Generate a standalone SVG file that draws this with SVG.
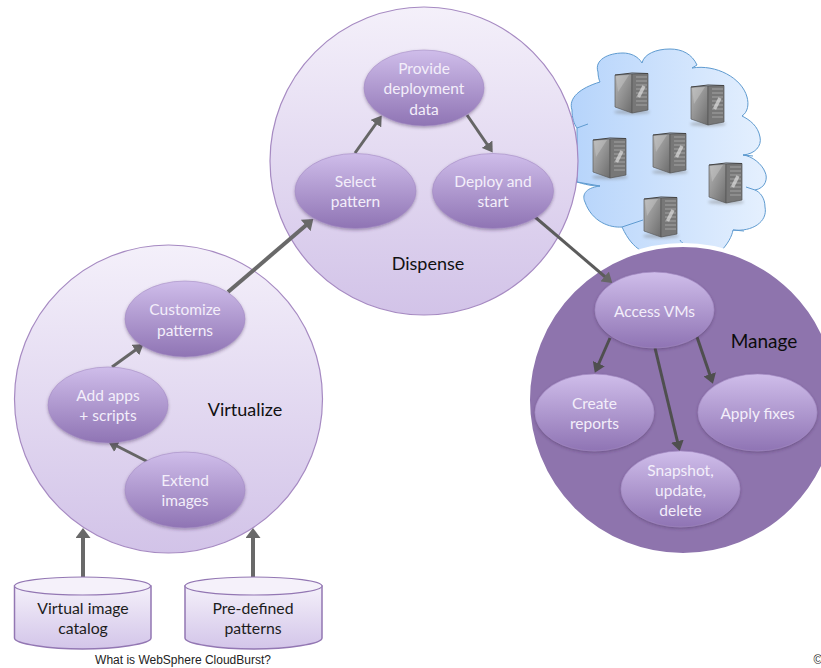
<svg xmlns="http://www.w3.org/2000/svg" xmlns:xlink="http://www.w3.org/1999/xlink" width="821" height="668" viewBox="0 0 821 668">
<style>
text{font-family:"Lato","Open Sans","Liberation Sans",sans-serif;text-anchor:middle}
.w{fill:#f3eefa;font-size:15.5px}
.b{fill:#111;font-size:18px}
.d{fill:#1c1c1c;font-size:15.8px}
.big{fill:url(#bigG);stroke:#a68ac2;stroke-width:1.2}
.n{fill:url(#nodeG);stroke:#a48cc4;stroke-width:.6;filter:url(#sh)}
.cyl{fill:url(#cylG);stroke:#9377b3;stroke-width:1.5}
.top{fill:#f5f1fa;stroke:#9377b3;stroke-width:1.2}
.a{stroke:#696969;stroke-width:4;fill:none;marker-end:url(#ah)}
.a2{stroke:#666;stroke-width:3;fill:none;marker-end:url(#ah2)}
.a3{stroke:#4f4f4f;stroke-width:3;fill:none;marker-end:url(#ah3)}
.crease{fill:none;stroke:#5f9bd0;stroke-width:1}
</style>
<defs>
<linearGradient id="bigG" x1="0" y1="0" x2="0" y2="1"><stop offset="0" stop-color="#f4f0fa"/><stop offset="1" stop-color="#d2c3e8"/></linearGradient>
<linearGradient id="nodeG" x1="0" y1="0" x2="0" y2="1"><stop offset="0" stop-color="#cfbdea"/><stop offset="1" stop-color="#8f74b4"/></linearGradient>
<linearGradient id="cylG" x1="0" y1="0" x2="0" y2="1"><stop offset="0" stop-color="#f4f0fa"/><stop offset="1" stop-color="#d3c5e9"/></linearGradient>
<linearGradient id="cloudG" x1="0" y1="0" x2="1" y2="0"><stop offset="0" stop-color="#b6d4fb"/><stop offset="1" stop-color="#e5f0fe"/></linearGradient>
<linearGradient id="srvL" x1="0" y1="0" x2="1" y2="1"><stop offset="0" stop-color="#b4b4b4"/><stop offset=".45" stop-color="#959595"/><stop offset="1" stop-color="#6c6c6c"/></linearGradient>
<filter id="sh" x="-15%" y="-15%" width="130%" height="135%"><feDropShadow dx="0" dy="1.5" stdDeviation="1.5" flood-color="#3d2c55" flood-opacity=".4"/></filter>
<filter id="bl" x="-30%" y="-100%" width="160%" height="300%"><feGaussianBlur stdDeviation="1.5"/></filter>
<marker id="ah" markerUnits="userSpaceOnUse" markerWidth="10" markerHeight="15" viewBox="0 0 10 15" refX="7" refY="7.5" orient="auto"><path d="M0,0L10,7.500L0,15z" fill="#696969"/></marker>
<marker id="ah2" markerUnits="userSpaceOnUse" markerWidth="10" markerHeight="13" viewBox="0 0 10 13" refX="7" refY="6.5" orient="auto"><path d="M0,0L10,6.500L0,13z" fill="#666"/></marker>
<marker id="ah3" markerUnits="userSpaceOnUse" markerWidth="10" markerHeight="13" viewBox="0 0 10 13" refX="7" refY="6.5" orient="auto"><path d="M0,0L10,6.500L0,13z" fill="#4f4f4f"/></marker>
<g id="srv">
<ellipse cx="17" cy="40" rx="18" ry="2.500" fill="#777" opacity=".4" filter="url(#bl)"/>
<path d="M0,3L17,2L17,41L0,35z" fill="url(#srvL)" stroke="#5c5c5c" stroke-width=".7"/>
<path d="M17,2L33,1.500L33,38L17,41z" fill="#777" stroke="#555" stroke-width=".7"/>
<path d="M21,5H32M21,9H32M21,13H32M21,17H32M21,21H32M21,25H32M21,29H32M21,33H32" stroke="#a4a4a4" stroke-width="1"/>
<path d="M23.500,25L29,14" stroke="#e4e4e4" stroke-width="3.500" opacity=".65"/>
<path d="M1,4L14,3L3,20z" fill="#d2d2d2" opacity=".4"/>
<path d="M0,3L17,1L33,1.500" fill="none" stroke="#444" stroke-width="1"/>
</g>
</defs>

<g id="cloud">
<path fill="url(#cloudG)" stroke="#5f9bd0" stroke-width="1" d="M600,82C580,88 568,98 572,110C572,118 574,124 577,128L577,182C590,186 596,186 600,186C584,188 582,196 585,202C592,222 610,228 622,227C628,240 634,246 640,250L720,252C728,244 732,236 733,230C752,232 768,222 765,207C765,198 760,192 755,190C766,188 768,178 765,172C762,164 752,156 743,155C755,154 762,146 760,137C758,126 750,120 742,116C748,112 749,104 747,97C742,78 716,64 692,68L697,65C692,54 682,49 670,49C656,49 644,54 642,63C638,56 630,53 623,53C608,53 594,60 598,72C598,76 599,80 600,82Z"/>
<path class="crease" d="M577,128L588,124M577,182L600,186M622,227L643,220M680,240C682,244 688,246 692,248M733,230L744,231M755,190L746,187M743,155L753,156"/>
<g id="servers">
<use xlink:href="#srv" href="#srv" x="615" y="72"/>
<use xlink:href="#srv" href="#srv" x="691" y="84"/>
<use xlink:href="#srv" href="#srv" x="593" y="137"/>
<use xlink:href="#srv" href="#srv" x="653" y="132"/>
<use xlink:href="#srv" href="#srv" x="709" y="162"/>
<use xlink:href="#srv" href="#srv" x="644" y="196"/>
</g>
</g>

<g id="dispense"><circle class="big" cx="424" cy="161" r="154"/><text class="b" x="428" y="270">Dispense</text></g>
<g id="virtualize"><circle class="big" cx="168.500" cy="399" r="154"/><text class="b" x="245" y="416">Virtualize</text></g>
<g id="manage"><circle cx="683" cy="400" r="155" fill="#8e74ad" stroke="#fff" stroke-width="4"/><text class="b" x="764" y="348" style="fill:#0c0c0c;font-size:19px">Manage</text></g>

<g id="connectors">
<path class="a" d="M83,577V531"/>
<path class="a" d="M253,577V531"/>
<path class="a" d="M228,292L311,221"/>
<path class="a2" d="M112,367L141,346"/>
<path class="a2" d="M158,467L111,443"/>
<path class="a2" d="M355,153L380,118"/>
<path class="a2" d="M467,115L491,150"/>
<path class="a2" d="M535,217L610,281" style="stroke:#5c5c5c"/>
<path class="a3" d="M610,338L596,370"/>
<path class="a3" d="M655,348L679,448"/>
<path class="a3" d="M697,337L712,381"/>
</g>

<g id="provide"><ellipse class="n" cx="424" cy="88" rx="60" ry="38"/><text class="w" x="424" y="74">Provide</text><text class="w" x="424" y="94">deployment</text><text class="w" x="424" y="115">data</text></g>
<g id="select"><ellipse class="n" cx="355.500" cy="191" rx="60.500" ry="37.500"/><text class="w" x="355.500" y="187">Select</text><text class="w" x="355.500" y="207">pattern</text></g>
<g id="deploy"><ellipse class="n" cx="493" cy="191" rx="60.500" ry="37.500"/><text class="w" x="493" y="187">Deploy and</text><text class="w" x="493" y="207">start</text></g>
<g id="customize"><ellipse class="n" cx="185" cy="319" rx="60" ry="38"/><text class="w" x="185" y="315">Customize</text><text class="w" x="185" y="336">patterns</text></g>
<g id="addapps"><ellipse class="n" cx="108" cy="405" rx="60" ry="38"/><text class="w" x="108" y="401">Add apps</text><text class="w" x="108" y="421">+ scripts</text></g>
<g id="extend"><ellipse class="n" cx="185" cy="490" rx="60" ry="38"/><text class="w" x="185" y="486">Extend</text><text class="w" x="185" y="506">images</text></g>
<g id="access"><ellipse class="n" cx="654.500" cy="310" rx="59.500" ry="38"/><text class="w" x="654.500" y="317">Access VMs</text></g>
<g id="create"><ellipse class="n" cx="594.500" cy="412.500" rx="59.500" ry="38.500"/><text class="w" x="594.500" y="409">Create</text><text class="w" x="594.500" y="429">reports</text></g>
<g id="apply"><ellipse class="n" cx="757.500" cy="412.500" rx="59.500" ry="38.500"/><text class="w" x="757.500" y="419">Apply fixes</text></g>
<g id="snapshot"><ellipse class="n" cx="680.500" cy="489" rx="59.500" ry="38"/><text class="w" x="680.500" y="476">Snapshot,</text><text class="w" x="680.500" y="496">update,</text><text class="w" x="680.500" y="516">delete</text></g>

<g id="catalog">
<path class="cyl" d="M14.500,586V638C14.500,644 50,649 82.500,649S151,644 151,638V586z"/>
<ellipse class="top" cx="82.500" cy="586" rx="68" ry="9"/>
<text class="d" x="83" y="614">Virtual image</text><text class="d" x="83" y="634">catalog</text>
</g>
<g id="predefined">
<path class="cyl" d="M185,586V638C185,644 220,649 253.500,649S322,644 322,638V586z"/>
<ellipse class="top" cx="253.500" cy="586" rx="68.500" ry="9"/>
<text class="d" x="253" y="614">Pre-defined</text><text class="d" x="253" y="634">patterns</text>
</g>

<g id="footer">
<text x="183" y="664" style="font-family:'Liberation Sans',sans-serif;font-size:12px;fill:#222">What is WebSphere CloudBurst?</text>
<text x="818" y="664" style="font-family:'Liberation Sans',sans-serif;font-size:12px;fill:#222">©</text>
</g>
</svg>
